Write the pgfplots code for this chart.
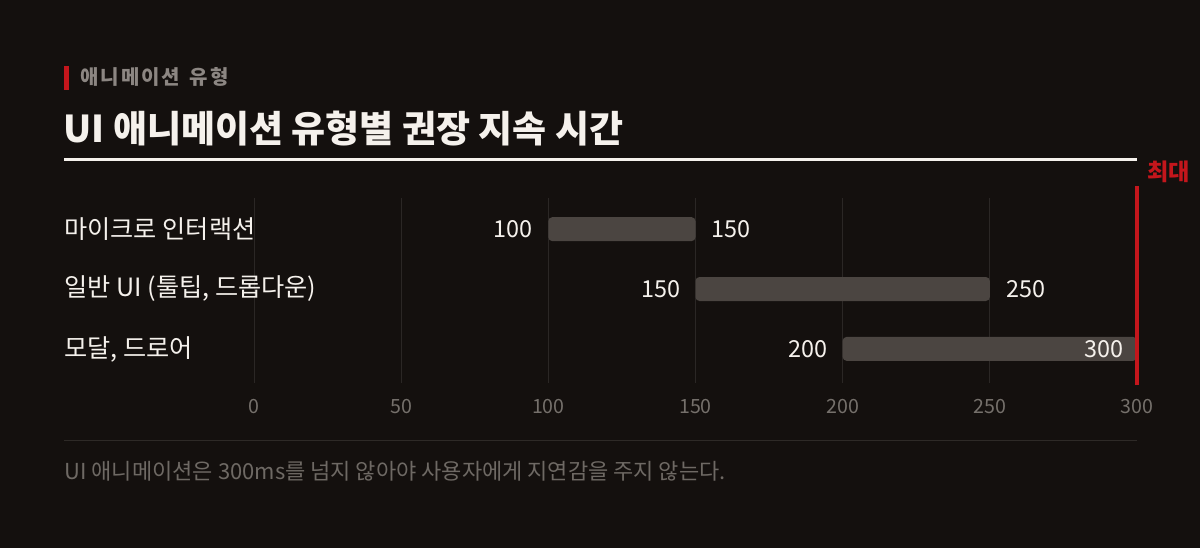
\documentclass[border=0pt]{standalone}
\usepackage{fontspec}
\setmainfont{Noto Sans CJK KR}
\usepackage{pgfplots}
\pgfplotsset{compat=1.18}

\definecolor{bgc}{HTML}{14100E}
\definecolor{gridc}{HTML}{2B2725}
\definecolor{barc}{HTML}{4B4541}
\definecolor{txtc}{HTML}{F5F1EC}
\definecolor{subc}{HTML}{8C8682}
\definecolor{tickc}{HTML}{75706B}
\definecolor{notec}{HTML}{6E6964}
\definecolor{redc}{HTML}{C4161C}
\definecolor{rulec}{HTML}{2E2A27}

\tikzset{vlab/.style={font=\fontsize{11.7}{14}\selectfont, text=txtc, inner sep=0pt}}

\begin{document}
\begin{tikzpicture}
% background, 1px = 0.5pt
\fill[bgc] (0,0) rectangle (600pt,274pt);

\begin{axis}[
    at={(127pt,82.5pt)}, anchor=south west,
    scale only axis,
    width=441.5pt, height=92.5pt,
    xbar stacked,
    bar width=12pt,
    xmin=0, xmax=300,
    ymin=-0.52, ymax=2.57,
    y dir=reverse,
    xtick={0,50,100,150,200,250,300},
    ytick=\empty,
    xmajorgrids,
    major grid style={gridc, line width=0.5pt},
    axis line style={draw=none},
    major tick length=0pt,
    /pgf/number format/assume math mode=true,
    xticklabel style={font=\fontsize{9.8}{12}\selectfont, text=tickc, anchor=center, yshift=-12pt},
    clip=false,
]
% invisible offset (start of range)
\addplot[draw=none, fill=none] coordinates {(100,0) (150,1) (200,2)};
% visible span (end - start)
\addplot[fill=barc, draw=none, rounded corners=2pt] coordinates {(50,0) (100,1) (100,2)};

\coordinate (s0) at (axis cs:100,0);
\coordinate (e0) at (axis cs:150,0);
\coordinate (s1) at (axis cs:150,1);
\coordinate (e1) at (axis cs:250,1);
\coordinate (s2) at (axis cs:200,2);
\coordinate (e2) at (axis cs:300,2);
\end{axis}

% value labels (drawn after the bars)
\node[vlab, anchor=east, xshift=-7.5pt] at (s0) {100};
\node[vlab, anchor=west, xshift=8pt] at (e0) {150};
\node[vlab, anchor=east, xshift=-7.5pt] at (s1) {150};
\node[vlab, anchor=west, xshift=8pt] at (e1) {250};
\node[vlab, anchor=east, xshift=-7.5pt] at (s2) {200};
\node[vlab, anchor=east, xshift=-6.5pt] at (e2) {300};

\begin{scope}[x=0.5pt, y=-0.5pt, shift={(0,274pt)}]
% header
\fill[redc] (64,66) rectangle (69,90);
\node[anchor=west, inner sep=0, text=subc, font=\bfseries\fontsize{10}{12}\selectfont] at (80,77) {애\kern1pt 니\kern1pt 메\kern1pt 이\kern1pt 션\kern1pt\ \kern1.5pt 유\kern1pt 형};
\node[anchor=west, inner sep=0, text=txtc, font=\bfseries\fontsize{18.5}{22}\selectfont] at (63,129) {UI 애니메이션 유형별 권장 지속 시간};
\fill[txtc] (64,158) rectangle (1137,161);
% category labels
\node[anchor=west, inner sep=0, text=txtc, font=\fontsize{12.6}{15}\selectfont] at (64,229) {마이크로 인터랙션};
\node[anchor=west, inner sep=0, text=txtc, font=\fontsize{12.6}{15}\selectfont] at (64,289) {일반 UI (툴팁, 드롭다운)};
\node[anchor=west, inner sep=0, text=txtc, font=\fontsize{12.6}{15}\selectfont] at (64,349) {모달, 드로어};
% max marker
\draw[redc, line width=2pt] (1137,186) -- (1137,385);
\node[anchor=west, inner sep=0, text=redc, font=\bfseries\fontsize{11.6}{14}\selectfont] at (1147,172) {최대};
% footer
\draw[rulec, line width=0.5pt] (64,440) -- (1137,440);
\node[anchor=west, inner sep=0, text=notec, font=\fontsize{11}{13}\selectfont] at (64,471) {UI 애니메이션은 300ms를 넘지 않아야 사용자에게 지연감을 주지 않는다.};
\end{scope}
\end{tikzpicture}
\end{document}
